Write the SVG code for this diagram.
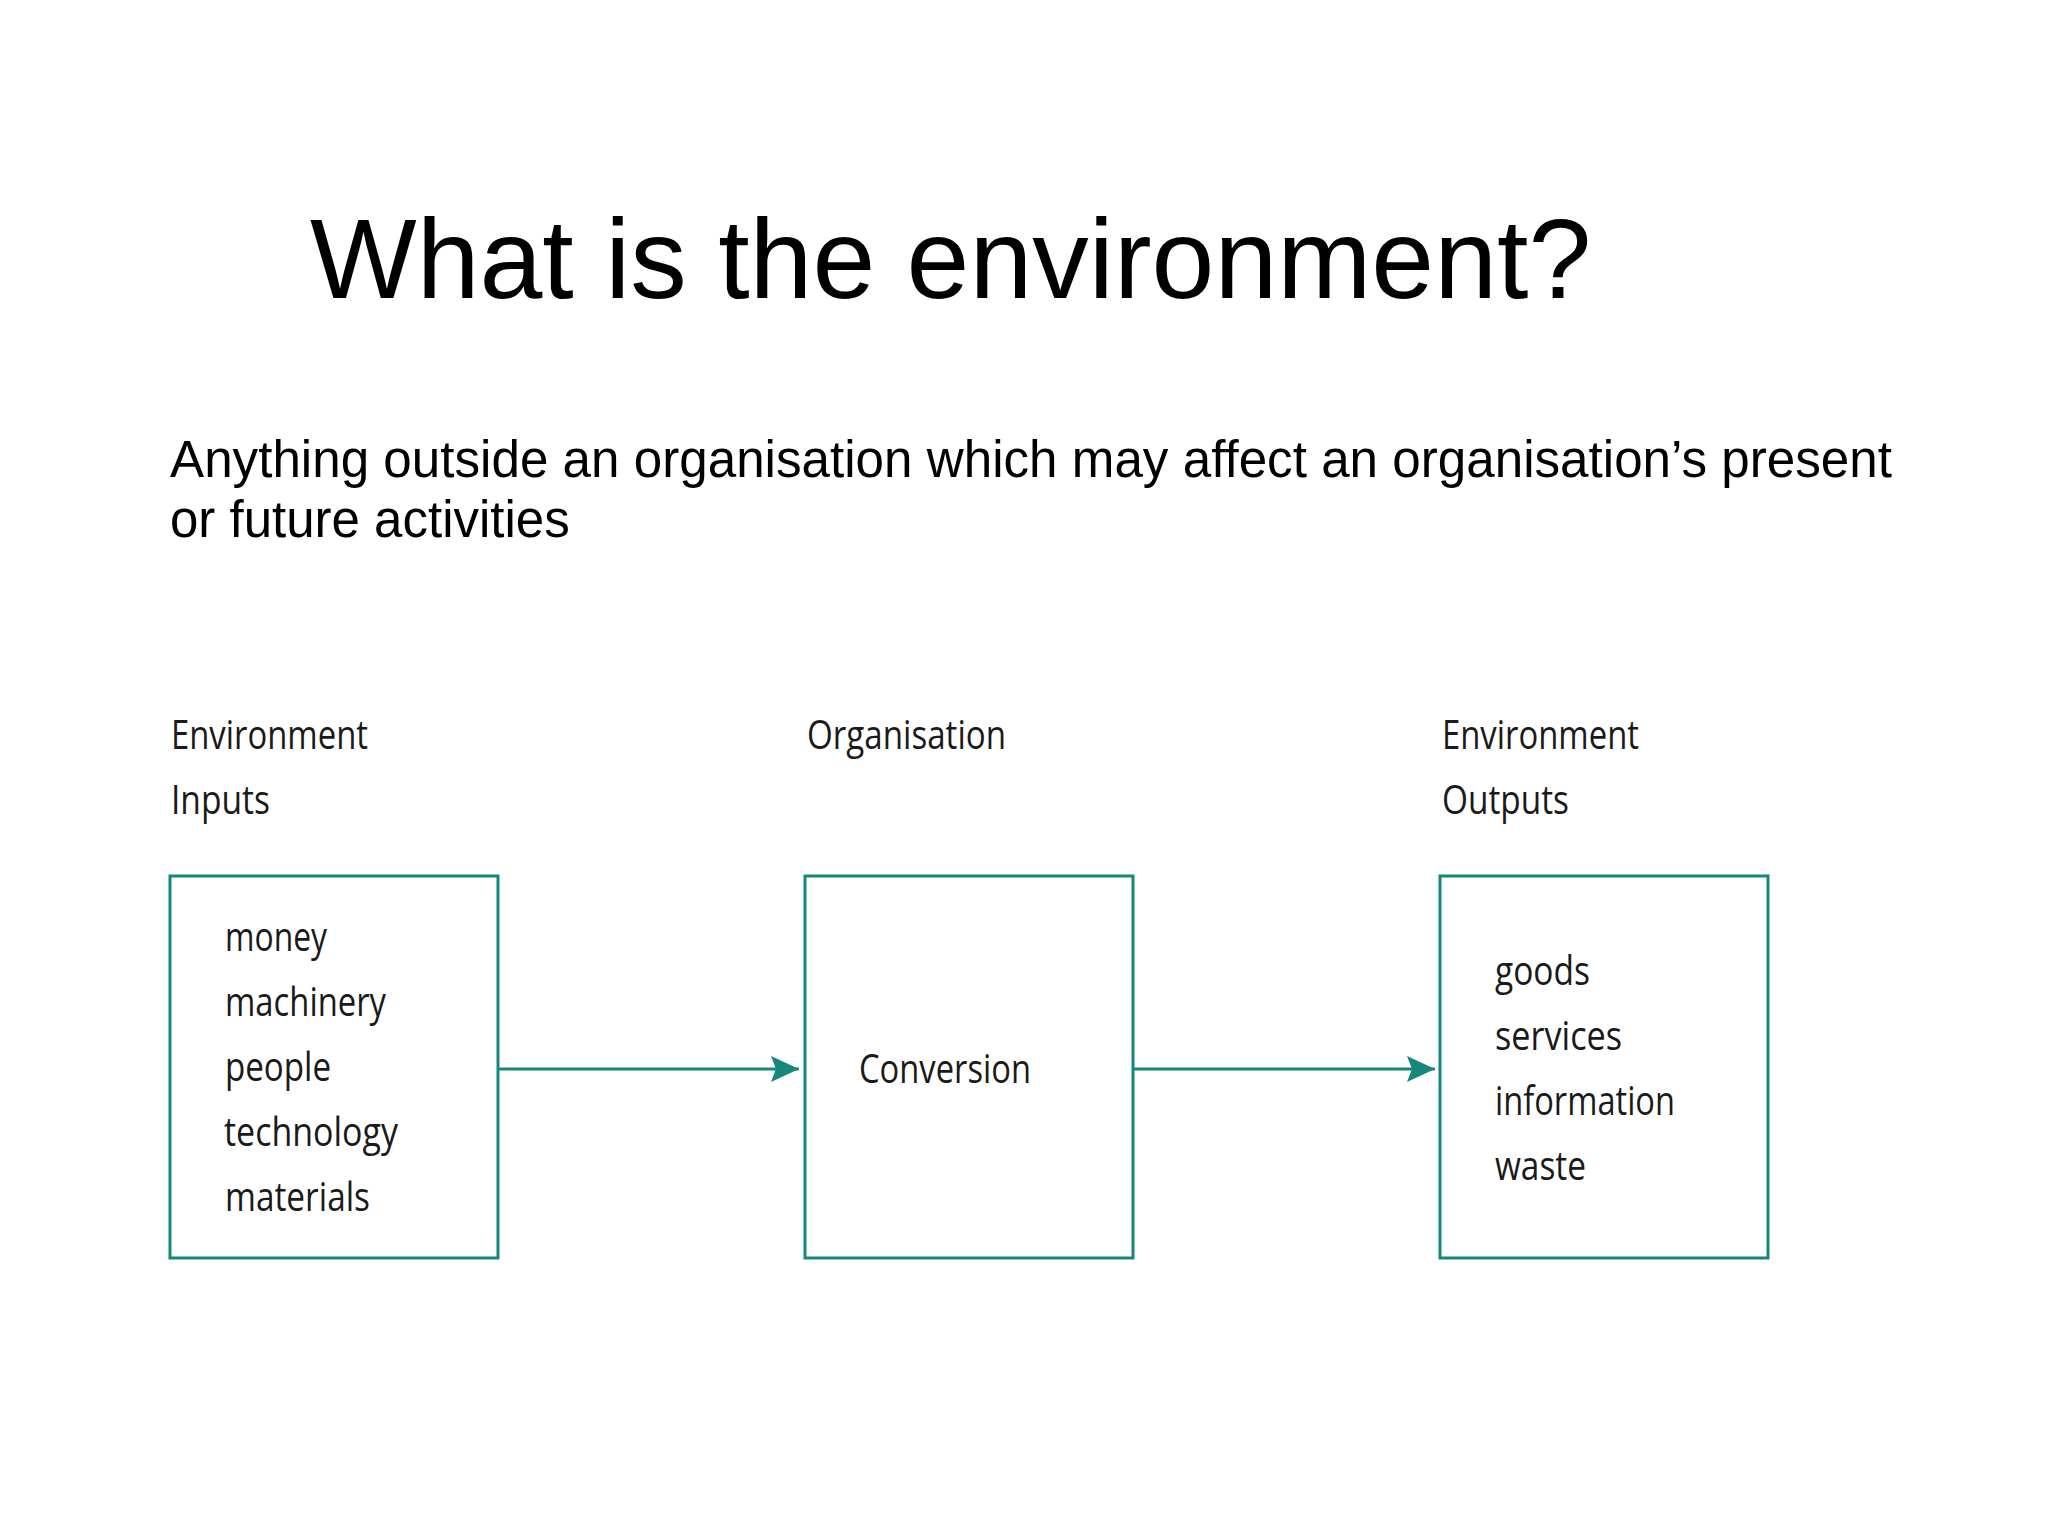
<svg xmlns="http://www.w3.org/2000/svg" width="2048" height="1536" viewBox="0 0 2048 1536">
<style>
.title{font-family:"Liberation Sans",Arial,sans-serif;font-size:113px;fill:#000}
.body{font-family:"Liberation Sans",Arial,sans-serif;font-size:51px;fill:#000}
.lbl{font-family:"Open Sans","DejaVu Sans",sans-serif;font-size:40px;fill:#1a1a1a}
.box{fill:#fff;stroke:#16877a;stroke-width:3}
.conn{stroke:#16877a;stroke-width:3;fill:none}
</style>
<defs>
<marker id="arr" markerUnits="userSpaceOnUse" markerWidth="30" markerHeight="28" refX="28" refY="14" orient="auto">
<path d="M0,1 L28,14 L0,27 L5,14 Z" fill="#16877a"/>
</marker>
</defs>
<rect width="2048" height="1536" fill="#fff"/>
<text class="title" x="310" y="298">What is the environment?</text>
<text class="body" x="170" y="477" textLength="1722" lengthAdjust="spacingAndGlyphs">Anything outside an organisation which may affect an organisation’s present</text>
<text class="body" x="170" y="537">or future activities</text>

<g id="inputs-header">
<text class="lbl" x="171" y="749" textLength="197" lengthAdjust="spacingAndGlyphs">Environment</text>
<text class="lbl" x="171" y="814" textLength="99" lengthAdjust="spacingAndGlyphs">Inputs</text>
</g>
<g id="org-header">
<text class="lbl" x="807" y="749" textLength="199" lengthAdjust="spacingAndGlyphs">Organisation</text>
</g>
<g id="outputs-header">
<text class="lbl" x="1442" y="749" textLength="197" lengthAdjust="spacingAndGlyphs">Environment</text>
<text class="lbl" x="1442" y="814" textLength="127" lengthAdjust="spacingAndGlyphs">Outputs</text>
</g>

<g id="inputs">
<rect class="box" x="170" y="876" width="328" height="382"/>
<text class="lbl" x="225" y="951" textLength="102" lengthAdjust="spacingAndGlyphs">money</text>
<text class="lbl" x="225" y="1016" textLength="161" lengthAdjust="spacingAndGlyphs">machinery</text>
<text class="lbl" x="225" y="1081" textLength="106" lengthAdjust="spacingAndGlyphs">people</text>
<text class="lbl" x="224" y="1146" textLength="174" lengthAdjust="spacingAndGlyphs">technology</text>
<text class="lbl" x="225" y="1211" textLength="145" lengthAdjust="spacingAndGlyphs">materials</text>
</g>
<g id="organisation">
<rect class="box" x="805" y="876" width="328" height="382"/>
<text class="lbl" x="859" y="1083" textLength="172" lengthAdjust="spacingAndGlyphs">Conversion</text>
</g>
<g id="outputs">
<rect class="box" x="1440" y="876" width="328" height="382"/>
<text class="lbl" x="1495" y="985" textLength="95" lengthAdjust="spacingAndGlyphs">goods</text>
<text class="lbl" x="1495" y="1050" textLength="127" lengthAdjust="spacingAndGlyphs">services</text>
<text class="lbl" x="1495" y="1115" textLength="180" lengthAdjust="spacingAndGlyphs">information</text>
<text class="lbl" x="1495" y="1180" textLength="91" lengthAdjust="spacingAndGlyphs">waste</text>
</g>

<g id="connectors">
<line class="conn" x1="498" y1="1069" x2="799" y2="1069" marker-end="url(#arr)"/>
<line class="conn" x1="1133" y1="1069" x2="1435" y2="1069" marker-end="url(#arr)"/>
</g>
</svg>
